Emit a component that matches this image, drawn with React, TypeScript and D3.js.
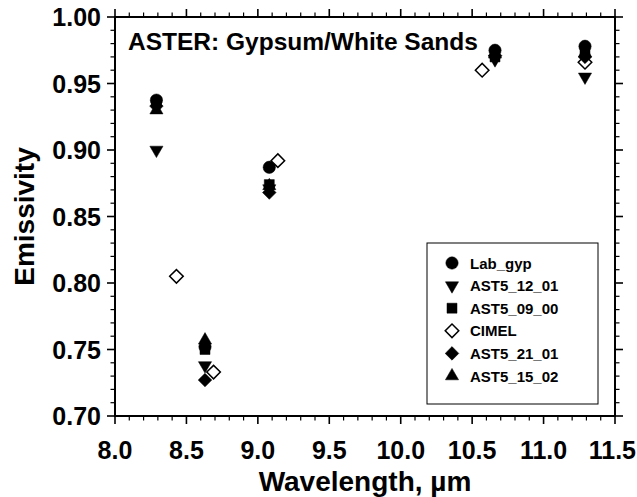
import React from "react";
import * as d3 from "d3";

const W = 637;
const H = 497;

const asterBands = [8.29, 8.63, 9.08, 10.66, 11.29];
const cimelBands = [8.43, 8.69, 9.14, 10.57, 11.29];

const labGyp = [0.9375, 0.752, 0.887, 0.975, 0.978];
const ast5_12_01 = [0.9, 0.738, 0.871, 0.968, 0.955];
const ast5_09_00 = [0.936, 0.75, 0.874, 0.97, 0.975];
const cimel = [0.805, 0.733, 0.892, 0.96, 0.966];
const ast5_21_01 = [0.933, 0.727, 0.868, 0.971, 0.97];
const ast5_15_02 = [0.93, 0.757, 0.873, 0.972, 0.973];

const xTicks = [8.0, 8.5, 9.0, 9.5, 10.0, 10.5, 11.0, 11.5];
const yTicks = [0.7, 0.75, 0.8, 0.85, 0.9, 0.95, 1.0];

type Kind = "circle" | "triDown" | "square" | "diamondOpen" | "diamond" | "triUp";

const seriesList: { name: string; kind: Kind; xs: number[]; ys: number[] }[] = [
  { name: "Lab_gyp", kind: "circle", xs: asterBands, ys: labGyp },
  { name: "AST5_12_01", kind: "triDown", xs: asterBands, ys: ast5_12_01 },
  { name: "AST5_09_00", kind: "square", xs: asterBands, ys: ast5_09_00 },
  { name: "CIMEL", kind: "diamondOpen", xs: cimelBands, ys: cimel },
  { name: "AST5_21_01", kind: "diamond", xs: asterBands, ys: ast5_21_01 },
  { name: "AST5_15_02", kind: "triUp", xs: asterBands, ys: ast5_15_02 },
];

const FONT = "'Liberation Sans', Arial, Helvetica, sans-serif";

function Marker({ kind, x, y }: { kind: Kind; x: number; y: number }) {
  let path = "";
  let rot = 0;
  if (kind === "circle") path = d3.symbol(d3.symbolCircle, 120)()!;
  else if (kind === "square") path = d3.symbol(d3.symbolSquare, 100)()!;
  else if (kind === "triUp") path = d3.symbol(d3.symbolTriangle, 75)()!;
  else if (kind === "triDown") {
    path = d3.symbol(d3.symbolTriangle, 75)()!;
    rot = 180;
  } else {
    path = d3.symbol(d3.symbolSquare, 92)()!;
    rot = 45;
  }
  const open = kind === "diamondOpen";
  return (
    <path
      d={path}
      transform={`translate(${x},${y}) rotate(${rot})`}
      fill={open ? "white" : "black"}
      stroke="black"
      strokeWidth={open ? 1.5 : 0.5}
    />
  );
}

export default function App() {
  const left = 115, right = 615, top = 17, bottom = 416;
  const x = d3.scaleLinear().domain([8.0, 11.5]).range([left, right]);
  const y = d3.scaleLinear().domain([0.7, 1.0]).range([bottom, top]);

  const xMinor = d3.range(80, 116, 1).map((v) => v / 10);
  const yMinor = d3.range(70, 101, 1).map((v) => v / 100);
  const isMajorX = (v: number) => Math.abs(v * 2 - Math.round(v * 2)) < 1e-6;
  const isMajorY = (v: number) => Math.abs(v * 20 - Math.round(v * 20)) < 1e-6;

  const majorLen = 8;
  const minorLen = 4.5;

  const legX = 427, legY = 243, legW = 171, legH = 161;
  const rowGap = 22.6;

  return (
    <svg width={W} height={H} style={{ position: "absolute", left: 0, top: 0, background: "white" }}>
      <rect x={0} y={0} width={W} height={H} fill="white" />
      {/* ticks */}
      <g stroke="black">
        {xMinor.map((v, i) => {
          const len = isMajorX(v) ? majorLen : minorLen;
          const sw = isMajorX(v) ? 1.6 : 1.2;
          return (
            <g key={"xt" + i}>
              <line x1={x(v)} x2={x(v)} y1={bottom} y2={bottom + len} strokeWidth={sw} />
              <line x1={x(v)} x2={x(v)} y1={top} y2={top - len} strokeWidth={sw} />
            </g>
          );
        })}
        {yMinor.map((v, i) => {
          const len = isMajorY(v) ? majorLen : minorLen;
          const sw = isMajorY(v) ? 1.6 : 1.2;
          return (
            <g key={"yt" + i}>
              <line x1={left} x2={left - len} y1={y(v)} y2={y(v)} strokeWidth={sw} />
              <line x1={right} x2={right + len} y1={y(v)} y2={y(v)} strokeWidth={sw} />
            </g>
          );
        })}
      </g>
      <rect x={left} y={top} width={right - left} height={bottom - top} fill="none" stroke="black" strokeWidth={2} />

      {/* tick labels */}
      {xTicks.map((v, i) => {
        const last = i === xTicks.length - 1;
        return (
          <text
            key={"xl" + v}
            x={last ? 636 : x(v)}
            y={459}
            textAnchor={last ? "end" : "middle"}
            fontFamily={FONT}
            fontWeight="bold"
            fontSize={25}
          >
            {v.toFixed(1)}
          </text>
        );
      })}
      {yTicks.map((v) => (
        <text key={"yl" + v} x={101} y={y(v) + 9} textAnchor="end" fontFamily={FONT} fontWeight="bold" fontSize={25}>
          {v.toFixed(2)}
        </text>
      ))}

      {/* axis titles */}
      <text x={(left + right) / 2} y={491} textAnchor="middle" fontFamily={FONT} fontWeight="bold" fontSize={28}>
        Wavelength, <tspan>µ</tspan>m
      </text>
      <text
        transform={`translate(34,${(top + bottom) / 2}) rotate(-90)`}
        textAnchor="middle"
        fontFamily={FONT}
        fontWeight="bold"
        fontSize={28}
      >
        Emissivity
      </text>

      {/* title */}
      <text x={128} y={50} fontFamily={FONT} fontWeight="bold" fontSize={24.5}>
        ASTER: Gypsum/White Sands
      </text>

      {/* data */}
      {seriesList.map((s) => (
        <g key={s.name}>
          {s.xs.map((xv, i) => (
            <Marker key={i} kind={s.kind} x={x(xv)} y={y(s.ys[i])} />
          ))}
        </g>
      ))}

      {/* legend */}
      <rect x={legX} y={legY} width={legW} height={legH} fill="white" stroke="black" strokeWidth={1} />
      {seriesList.map((s, i) => {
        const cy = legY + 20 + i * rowGap;
        return (
          <g key={"lg" + s.name}>
            <Marker kind={s.kind} x={legX + 25} y={cy} />
            <text x={legX + 43} y={cy + 5.5} fontFamily={FONT} fontWeight="bold" fontSize={15}>
              {s.name}
            </text>
          </g>
        );
      })}
    </svg>
  );
}
